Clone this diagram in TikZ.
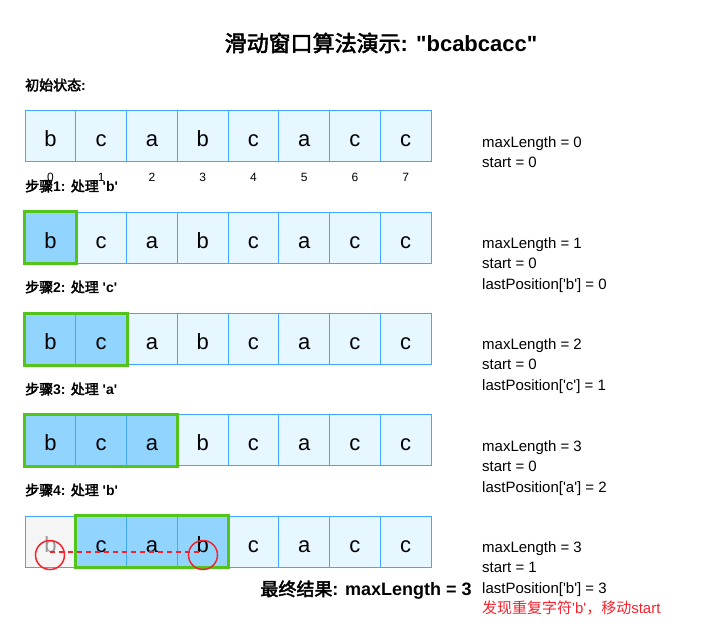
\documentclass[tikz,border=0pt]{standalone}
\usepackage{fontspec}
\setmainfont{Liberation Sans}[Ligatures=TeXOff]
\newfontfamily\cjk{Noto Sans CJK SC}[AutoFakeBold=2.5]
\definecolor{cellfill}{HTML}{E6F7FF}
\definecolor{cellline}{HTML}{40A9FF}
\definecolor{hlfill}{HTML}{91D5FF}
\definecolor{greyfill}{HTML}{F5F5F5}
\definecolor{greytext}{HTML}{999999}
\definecolor{winline}{HTML}{52C41A}
\definecolor{redc}{HTML}{F5222D}
\begin{document}
\begin{tikzpicture}[x=1pt,y=-1pt,
  cell/.style={draw=cellline,line width=1pt,fill=cellfill,minimum width=50.75pt,minimum height=51pt,inner sep=0pt,text height=21pt,text depth=0pt,font=\fontsize{22}{26}\selectfont},
  hlcell/.style={cell,fill=hlfill},
  greycell/.style={cell,fill=greyfill,text=greytext},
  winbox/.style={draw=winline,line width=3pt},
  idx/.style={font=\fontsize{12}{14}\selectfont,inner sep=0pt},
  steplabel/.style={anchor=west,inner sep=0pt,font=\bfseries\fontsize{14}{16}\selectfont},
  info/.style={anchor=north west,inner sep=0pt,align=left,font=\fontsize{15}{20.5}\selectfont},
  redcircle/.style={circle,draw=redc,line width=1.5pt,minimum size=29pt,inner sep=0pt},
  reddash/.style={draw=redc,line width=1.5pt,dash pattern=on 5pt off 4pt}]
\useasboundingbox (0,0) rectangle (709,639);
\node[font=\bfseries\fontsize{22}{26}\selectfont] (title) at (381,43) {{\cjk 滑动窗口算法演示}: "bcabcacc"};

\foreach \r/\hs/\he in {0/-1/-1,1/0/0,2/0/1,3/0/2,4/1/3} {
  \foreach \ch [count=\i from 0] in {b,c,a,b,c,a,c,c} {
    \pgfmathtruncatemacro\hl{(\i>=\hs)&&(\i<=\he)}
    \ifnum\hl=1 \def\st{hlcell}\else\def\st{cell}\fi
    \ifnum\r=4 \ifnum\i=0 \def\st{greycell}\fi\fi
    \node[\st] (c\r-\i) at ({25+50.75*\i+25.375},{111+101.25*\r+25.5}) {\ch};
  }
}
\foreach \i in {0,...,7} {
  \node[idx] (idx\i) at ({25+50.75*\i+25.375},177) {\i};
}

\node[steplabel] (s0) at (25,85) {{\cjk 初始状态}:};
\node[steplabel] (s1) at (25,186) {{\cjk 步骤}1: {\cjk 处理} 'b'};
\node[steplabel] (s2) at (25,287) {{\cjk 步骤}2: {\cjk 处理} 'c'};
\node[steplabel] (s3) at (25,389) {{\cjk 步骤}3: {\cjk 处理} 'a'};
\node[steplabel] (s4) at (25,490) {{\cjk 步骤}4: {\cjk 处理} 'b'};

\draw[winbox] (c1-0.north west) rectangle (c1-0.south east);
\draw[winbox] (c2-0.north west) rectangle (c2-1.south east);
\draw[winbox] (c3-0.north west) rectangle (c3-2.south east);
\draw[winbox] (c4-1.north west) rectangle (c4-3.south east);

\node[info] (i0) at (482,136) {maxLength = 0\\start = 0};
\node[info] (i1) at (482,237) {maxLength = 1\\start = 0\\lastPosition['b'] = 0};
\node[info] (i2) at (482,338) {maxLength = 2\\start = 0\\lastPosition['c'] = 1};
\node[info] (i3) at (482,440) {maxLength = 3\\start = 0\\lastPosition['a'] = 2};
\node[info] (i4) at (482,541) {maxLength = 3\\start = 1\\lastPosition['b'] = 3\\\textcolor{redc}{{\cjk 发现重复字符}'b'{\cjk ，移动}start}};

\node[redcircle] (rc1) at (50,555) {};
\node[redcircle] (rc2) at (203,555) {};
\draw[reddash] ([yshift=3pt]rc1.center) -- ([yshift=3pt]rc2.center);

\node[font=\bfseries\fontsize{18}{22}\selectfont] (final) at (366,590) {{\cjk 最终结果}: maxLength = 3};
\end{tikzpicture}
\end{document}
